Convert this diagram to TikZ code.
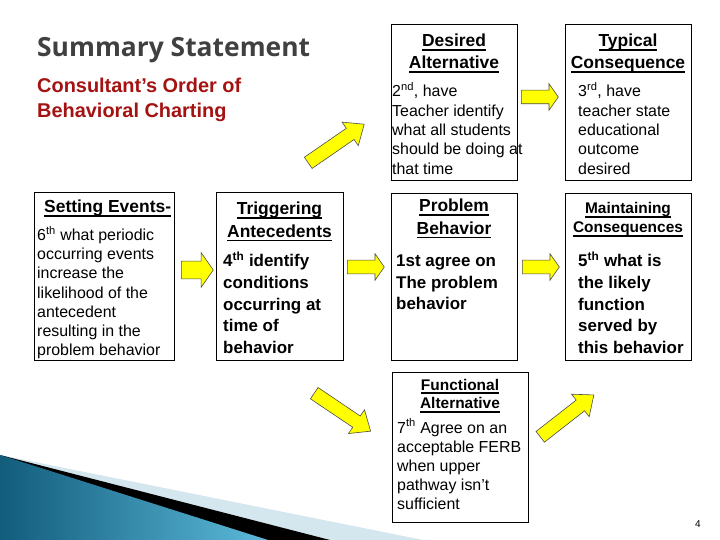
\documentclass[tikz,border=0pt]{standalone}
\usepackage{fontspec}
\setmainfont{Liberation Sans}
\newfontfamily\titlefont{Open Sans}
\usetikzlibrary{shapes.arrows}
\definecolor{titlegray}{RGB}{64,64,64}
\definecolor{darkred}{RGB}{165,18,18}
\definecolor{tealdark}{RGB}{18,92,124}
\definecolor{teallight}{RGB}{92,186,218}
\definecolor{paleblue}{RGB}{212,230,238}
\definecolor{arrowyellow}{RGB}{255,255,0}
\newcommand\myul[1]{\leavevmode\setbox0\hbox{#1}\rlap{\rule[-3.6pt]{\wd0}{1.5pt}}\box0}
\newcommand\tl[1]{\begin{tabular}[t]{@{}l@{}}#1\end{tabular}}
\newcommand\tc[1]{\begin{tabular}[t]{@{}c@{}}#1\end{tabular}}
\newcommand\fs[2]{\fontsize{#1}{#2}\selectfont}
\begin{document}
\begin{tikzpicture}[x=1bp,y=-1bp,
  box/.style={draw=black, line width=0.9bp, inner sep=0pt, anchor=north west},
  txt/.style={inner sep=0pt, anchor=base west},
  hdr/.style={inner sep=0pt, anchor=base},
  harrow/.style={single arrow, draw=black!70, fill=arrowyellow, line width=0.6bp,
    inner xsep=0pt, inner ysep=6.5bp, minimum height=37bp,
    single arrow head extend=6.5bp, single arrow tip angle=110, anchor=tail},
  darrow/.style={single arrow, draw=black!70, fill=arrowyellow, line width=0.6bp,
    inner xsep=0pt, inner ysep=6.5bp, minimum height=68bp,
    single arrow head extend=7.5bp, single arrow tip angle=80, anchor=tail}]
\useasboundingbox (0,0) rectangle (720,540);
\fill[white] (0,0) rectangle (720,540);

% decoration bottom left
\fill[paleblue] (0,455) -- (423,540) -- (0,540) -- cycle;
\fill[black] (0,455) -- (330,540) -- (0,540) -- cycle;
\shade[left color=tealdark, right color=teallight] (0,455) -- (268,540) -- (0,540) -- cycle;

% titles
\node[txt, font=\titlefont\bfseries\fs{26.5}{30}, text=titlegray] (title) at (37,57) {Summary Statement};
\node[txt, font=\bfseries\fs{20}{25}, text=darkred] (sub) at (37,93) {\tl{Consultant’s Order of\\Behavioral Charting}};

% boxes
\node[box, minimum width=126bp, minimum height=156bp] (desired) at (391,24) {};
\node[box, minimum width=126bp, minimum height=156bp] (typical) at (565,24) {};
\node[box, minimum width=140bp, minimum height=168bp] (setting) at (34,192) {};
\node[box, minimum width=127bp, minimum height=168bp] (trigger) at (216,192) {};
\node[box, minimum width=126bp, minimum height=167bp] (problem) at (391,193) {};
\node[box, minimum width=126bp, minimum height=167bp] (maintain) at (565,193) {};
\node[box, minimum width=136bp, minimum height=150bp] (functional) at (392,372) {};

% desired
\node[hdr, font=\bfseries\fs{17.5}{22}] (desiredH) at (454,47) {\tc{\myul{Desired}\\\myul{Alternative}}};
\node[txt, font=\fs{16}{19.4}] (desiredB) at (392,97) {\tl{2\textsuperscript{nd}, have\\Teacher identify\\what all students\\should be doing at\\that time}};
% typical
\node[hdr, font=\bfseries\fs{17.5}{22}] (typicalH) at (628,47) {\tc{\myul{Typical}\\\myul{Consequence}}};
\node[txt, font=\fs{16}{19.4}] (typicalB) at (578,97) {\tl{3\textsuperscript{rd}, have\\teacher state\\educational\\outcome\\desired}};
% setting
\node[txt, font=\bfseries\fs{17.5}{22}] (settingH) at (44,213) {\myul{Setting Events-}};
\node[txt, font=\fs{16}{19.3}] (settingB) at (37,240.5) {\tl{6\textsuperscript{th} what periodic\\occurring events\\increase the\\likelihood of the\\antecedent\\resulting in the\\problem behavior}};
% triggering
\node[hdr, font=\bfseries\fs{17.5}{23}] (triggerH) at (279.5,215) {\tc{\myul{Triggering}\\\myul{Antecedents}}};
\node[txt, font=\bfseries\fs{17}{21.6}] (triggerB) at (223,267) {\tl{4\textsuperscript{th} identify\\conditions\\occurring at\\time of\\behavior}};
% problem
\node[hdr, font=\bfseries\fs{17.5}{23}] (problemH) at (454,212) {\tc{\myul{Problem}\\\myul{Behavior}}};
\node[txt, font=\bfseries\fs{17}{21.3}] (problemB) at (396,267) {\tl{1st agree on\\The problem\\behavior}};
% maintaining
\node[hdr, font=\bfseries\fs{15.5}{19}] (maintainH) at (628,214) {\tc{\myul{Maintaining}\\\myul{Consequences}}};
\node[txt, font=\bfseries\fs{17}{21.6}] (maintainB) at (578,267) {\tl{5\textsuperscript{th} what is\\the likely\\function\\served by\\this behavior}};
% functional
\node[hdr, font=\bfseries\fs{15.5}{19}] (functionalH) at (460,390) {\tc{\myul{Functional}\\\myul{Alternative}}};
\node[txt, font=\fs{16}{19.3}] (functionalB) at (397,433) {\tl{7\textsuperscript{th} Agree on an\\acceptable FERB\\when upper\\pathway isn't\\sufficient}};

% arrows
\node[harrow] (a1) at (521,97) {};
\node[harrow, minimum height=32bp, inner ysep=8.5bp, single arrow head extend=8.5bp] (a2) at (181,270) {};
\node[harrow] (a3) at (347,267) {};
\node[harrow] (a4) at (522,267) {};
\node[darrow, rotate=34.6] (a5) at (308,163) {};
\node[darrow, rotate=-34] (a6) at (314,393) {};
\node[darrow, rotate=38] (a7) at (540,437) {};

% page number
\node[hdr, font=\fs{10}{12}] (pnum) at (698,527) {4};
\end{tikzpicture}
\end{document}
